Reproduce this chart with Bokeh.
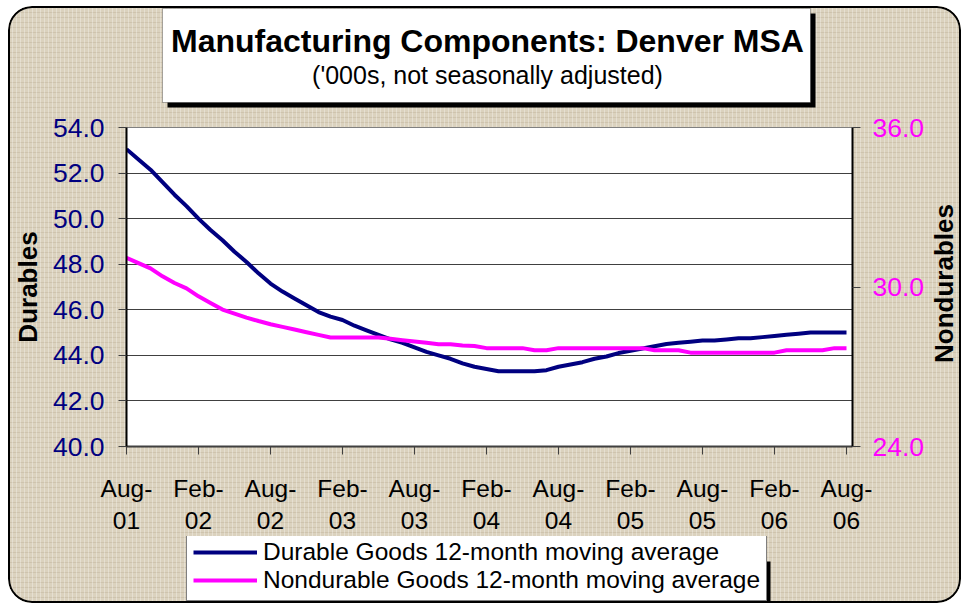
import math
from bokeh.plotting import figure
from bokeh.layouts import column
from bokeh.models import (Range1d, LinearAxis, FixedTicker, BoxAnnotation, Label,
                          Legend, LegendItem, PrintfTickFormatter)
from bokeh.embed import file_html
from bokeh.resources import INLINE

# ---------------- data ----------------
durables = [53.05, 52.6, 52.15, 51.6, 51.05, 50.55, 50.0, 49.5, 49.05, 48.55,
            48.1, 47.6, 47.15, 46.8, 46.5, 46.2, 45.9, 45.7, 45.55, 45.3,
            45.1, 44.9, 44.7, 44.55, 44.35, 44.15, 44.0, 43.85, 43.65, 43.5,
            43.4, 43.3, 43.3, 43.3, 43.3, 43.35, 43.5, 43.6, 43.7, 43.85,
            43.95, 44.1, 44.2, 44.3, 44.4, 44.5, 44.55, 44.6, 44.65, 44.65,
            44.7, 44.75, 44.75, 44.8, 44.85, 44.9, 44.95, 45.0, 45.0, 45.0,
            45.0]
nondurables = [31.1, 30.9, 30.7, 30.4, 30.15, 29.95, 29.65, 29.4, 29.15, 29.0,
               28.85, 28.72, 28.6, 28.5, 28.4, 28.3, 28.2, 28.1, 28.1, 28.1,
               28.1, 28.1, 28.05, 28.0, 27.95, 27.9, 27.85, 27.85, 27.8, 27.78,
               27.7, 27.7, 27.7, 27.7, 27.62, 27.62, 27.7, 27.7, 27.7, 27.7,
               27.7, 27.7, 27.7, 27.7, 27.62, 27.62, 27.62, 27.53, 27.53, 27.53,
               27.53, 27.53, 27.53, 27.53, 27.53, 27.62, 27.62, 27.62, 27.62, 27.7,
               27.7]
month_index = list(range(len(durables)))  # months since Aug-01

tick_labels = ["Aug-01", "Feb-02", "Aug-02", "Feb-03", "Aug-03", "Feb-04",
               "Aug-04", "Feb-05", "Aug-05", "Feb-06", "Aug-06"]
tick_positions = [0, 6, 12, 18, 24, 30, 36, 42, 48, 54, 60]
left_ticks = [40, 42, 44, 46, 48, 50, 52, 54]
right_ticks = [24, 30, 36]

title_text = "Manufacturing Components: Denver MSA"
subtitle_text = "('000s, not seasonally adjusted)"
series_names = ["Durable Goods 12-month moving average",
                "Nondurable Goods 12-month moving average"]

# ---------------- layout constants (px, relative to chart box) ----------------
W, H = 953, 597            # visible chart box
FL, FR, FT, FB = 118, 844, 121, 444   # plot-area edges
T = 102                    # title strip height
MB = 530                   # bottom of main figure
FONT = "Liberation Sans"
NAVY = "#000080"
MAGENTA = "#FF00FF"


def bare_fig(h):
    f = figure(width=W, height=h, output_backend="svg", toolbar_location=None,
               x_range=Range1d(0, 1), y_range=Range1d(0, 1),
               x_axis_location=None, y_axis_location=None,
               min_border=0, min_border_left=0, min_border_right=0,
               min_border_top=0, min_border_bottom=0,
               background_fill_alpha=0, border_fill_alpha=0)
    f.title.visible = False
    f.grid.visible = False
    f.outline_line_color = None
    return f


def cbox(l, r, t, b, **kw):
    return BoxAnnotation(left=l, right=r, top=t, bottom=b,
                         left_units="canvas", right_units="canvas",
                         top_units="canvas", bottom_units="canvas", **kw)


# ---------------- title strip ----------------
top = bare_fig(T)
top.add_layout(cbox(159, 807, 7, 101, fill_color="black", fill_alpha=1,
                    line_alpha=0, level="guide"))
top.add_layout(cbox(154, 802, 2, 96, fill_color="white", fill_alpha=1,
                    line_color="black", line_width=1, level="annotation"))
top.add_layout(Label(x=479 - FL, y=T - 34, x_units="screen", y_units="screen",
                     text=title_text, text_align="center", text_baseline="middle",
                     text_font=FONT, text_font_size="32px", text_font_style="bold",
                     text_color="black", level="overlay"))
top.add_layout(Label(x=479 - FL, y=T - 68, x_units="screen", y_units="screen",
                     text=subtitle_text, text_align="center", text_baseline="middle",
                     text_font=FONT, text_font_size="25px", text_color="black",
                     level="overlay"))

# ---------------- main chart ----------------
p = figure(width=W, height=MB - T, output_backend="svg", toolbar_location=None,
           x_range=Range1d(0, 60.5), y_range=Range1d(40, 54),
           min_border_left=FL, min_border_right=W - FR,
           min_border_top=FT - T, min_border_bottom=MB - FB,
           background_fill_color="white", background_fill_alpha=1,
           border_fill_alpha=0)
p.title.visible = False
p.outline_line_color = "#808080"
p.extra_y_ranges = {"nd": Range1d(24, 36)}

p.xgrid.visible = False
p.ygrid.ticker = FixedTicker(ticks=left_ticks)
p.ygrid.grid_line_color = "#404040"
p.ygrid.grid_line_width = 1

r1 = p.line(month_index, durables, line_color=NAVY, line_width=4)
r2 = p.line(month_index, nondurables, line_color=MAGENTA, line_width=4,
            y_range_name="nd")

xa = p.xaxis[0]
xa.ticker = FixedTicker(ticks=tick_positions)
xa.major_label_overrides = {pos: lab.replace("-", "-\n")
                            for pos, lab in zip(tick_positions, tick_labels)}
xa.major_label_text_font = FONT
xa.major_label_text_font_size = "24.5px"
xa.major_label_text_color = "black"
xa.major_label_standoff = 20
xa.major_tick_out = 8
xa.major_tick_in = 0
xa.minor_tick_out = 0
xa.minor_tick_in = 0
xa.axis_line_color = "#404040"
xa.axis_line_width = 2
xa.major_tick_line_color = "#404040"

ya = p.yaxis[0]
ya.ticker = FixedTicker(ticks=left_ticks)
ya.formatter = PrintfTickFormatter(format="%.1f")
ya.major_label_text_font = FONT
ya.major_label_text_font_size = "26.5px"
ya.major_label_text_color = NAVY
ya.major_label_standoff = 14
ya.major_tick_out = 8
ya.major_tick_in = 0
ya.minor_tick_out = 0
ya.minor_tick_in = 0
ya.axis_line_color = "black"
ya.axis_line_width = 2
ya.major_tick_line_color = "#404040"
ya.axis_label = "Durables"
ya.axis_label_text_font = FONT
ya.axis_label_text_font_size = "26px"
ya.axis_label_text_font_style = "bold"
ya.axis_label_text_color = "black"
ya.axis_label_standoff = 7

ra = LinearAxis(y_range_name="nd", ticker=FixedTicker(ticks=right_ticks),
                formatter=PrintfTickFormatter(format="%.1f"))
ra.major_label_text_font = FONT
ra.major_label_text_font_size = "26.5px"
ra.major_label_text_color = MAGENTA
ra.major_label_standoff = 12
ra.major_tick_out = 8
ra.major_tick_in = 0
ra.minor_tick_out = 0
ra.minor_tick_in = 0
ra.axis_line_color = "black"
ra.axis_line_width = 2
ra.major_tick_line_color = "#404040"
p.add_layout(ra, "right")

# right-hand axis title, in its own side panel (reads bottom to top)
p.add_layout(Label(x=16, y=FB - 281, x_units="screen", y_units="screen",
                   text="Nondurables", angle=math.pi / 2, text_align="center",
                   text_baseline="middle", text_font=FONT, text_font_size="26px",
                   text_font_style="bold", text_color="black"), "right")

# ---------------- legend strip ----------------
BH = H - MB
bot = bare_fig(BH)
b1 = bot.line(month_index, durables, line_color=NAVY, line_width=4, visible=False)
b2 = bot.line(month_index, nondurables, line_color=MAGENTA, line_width=4, visible=False)
LEG_L, LEG_B = 178, 65
bot.add_layout(cbox(LEG_L + 3, LEG_L + 3 + 581, LEG_B - 40, LEG_B + 3,
                    fill_color="black", fill_alpha=1, line_alpha=0, level="guide"))
legend = Legend(items=[LegendItem(label=series_names[0], renderers=[b1]),
                       LegendItem(label=series_names[1], renderers=[b2])],
                location=(LEG_L - FL, BH - LEG_B),
                label_text_font=FONT, label_text_font_size="24.5px",
                label_text_color="black",
                glyph_width=64, glyph_height=26, label_height=26,
                label_standoff=6, padding=6, spacing=0, margin=0,
                border_line_color="black", border_line_width=1,
                background_fill_color="white", background_fill_alpha=1)
bot.add_layout(legend)

texture = ("repeating-linear-gradient(90deg, rgba(255,255,255,0.30) 0px, "
           "rgba(255,255,255,0.30) 1px, transparent 1px, transparent 4px), "
           "repeating-linear-gradient(0deg, rgba(140,120,90,0.16) 0px, "
           "rgba(140,120,90,0.16) 1px, transparent 1px, transparent 5px)")
layout = column(top, p, bot, spacing=0, width=W, height=H,
                styles={"margin-left": "8px", "margin-top": "6px",
                        "border-radius": "24px", "overflow": "hidden",
                        "background-color": "#DBD2BE",
                        "background-image": texture,
                        "box-shadow": "inset 0 0 0 2px black"})

open("out.html", "w").write(file_html(layout, INLINE))
